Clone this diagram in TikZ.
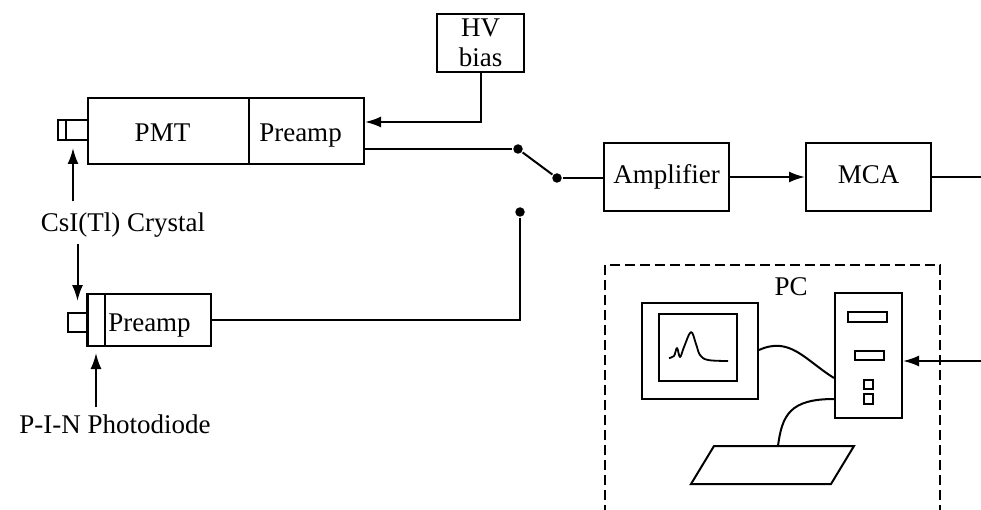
\documentclass[tikz,border=0pt]{standalone}
\usepackage{fontspec}
\setmainfont{Liberation Serif}
\usetikzlibrary{arrows.meta}
\begin{document}
\begin{tikzpicture}[x=1pt, y=-1pt, line width=2pt,
  every node/.style={font=\fontsize{27}{30}\selectfont},
  box/.style={draw, rectangle, inner sep=0pt, line width=2pt},
  lowtext/.style={text height=22pt, text depth=0pt},
  midtext/.style={text height=18pt, text depth=5pt},
  arr/.style={-{Latex[length=16pt,width=11pt]}},
  dot/.style={circle, fill, inner sep=0pt, minimum size=9.5pt},
  caption/.style={inner sep=0pt, anchor=base},
]
\useasboundingbox (0,0) rectangle (981,510);

% ---- scintillator + PMT chain ----
\node[box, minimum width=87pt, minimum height=58pt, align=center] (hv) at (480.5,43) {HV\\bias};
\node[box, lowtext, minimum width=161pt, minimum height=66pt] (pmt) at (168.5,131) {PMT\hspace*{12pt}};
\node[box, lowtext, minimum width=115pt, minimum height=66pt] (pre1) at (306.5,131) {Preamp\hspace*{12pt}};
\node[box, minimum width=30pt, minimum height=20pt] (xtal1) at (73,130) {};
\draw[line width=2.8pt] (66,121) -- (66,139);

% ---- scintillator + photodiode chain ----
\node[box, lowtext, minimum width=123pt, minimum height=52pt] (pre2) at (149.5,320) {Preamp};
\draw (105,294) -- (105,346);
\node[box, minimum width=18pt, minimum height=52pt] (pin) at (96,320) {};
\node[box, minimum width=19pt, minimum height=19pt] (pdsq) at (77.5,322.5) {};

% ---- labels ----
\node[caption] (csi) at (123,232) {CsI(Tl) Crystal};
\node[caption] (pinlab) at (115,433) {P-I-N Photodiode};
\draw[arr, shorten <=11pt, shorten >=7pt] (csi.north -| xtal1.south) -- (xtal1.south);
\draw[arr, shorten <=5pt, shorten >=11pt] (csi.south -| pdsq.north) -- (pdsq.north);
\draw[arr, shorten <=6pt, shorten >=6pt] (pinlab.north -| pin.south) -- (pin.south);

% ---- bias supply ----
\coordinate (hvturn) at (480.5,122);
\draw[arr] (hv.south) -- (hvturn) -- (hvturn -| pre1.east);

% ---- selector switch ----
\node[dot] (s1) at (518,149) {};
\node[dot] (s2) at (557,178) {};
\node[dot] (s3) at (520,212) {};
\draw (pre1.east |- s1) -- (s1);
\draw (s1) -- (s2);
\draw (s3) -- (s3 |- pre2.east) -- (pre2.east);

% ---- shaping and analysis ----
\node[box, midtext, minimum width=125pt, minimum height=68pt] (amp) at (666.5,177) {Amplifier};
\node[box, midtext, minimum width=125pt, minimum height=68pt] (mca) at (868.5,177) {MCA};
\draw (s2) -- (s2 -| amp.west);
\draw[arr] (amp) -- (mca);
\coordinate (mcaout) at (981,177);
\draw (mca.east) -- (mcaout);

% ---- computer ----
\draw[dash pattern=on 10pt off 5pt] (605,515) -- (605,265) -- (940,265) -- (940,515);
\node[caption] (pc) at (791,295) {PC};

\node[box, minimum width=116pt, minimum height=96pt] (mon) at (700,351) {};
\node[box, minimum width=78pt, minimum height=67pt] (scr) at (698,347.5) {};
\draw[line width=1.8pt, line join=round] plot[smooth, tension=0.6] coordinates
  {(669,358) (674,356) (677,348) (680,357) (684,347) (691,332) (696,344) (700,355) (708,360) (728,361)};

\node[box, minimum width=67pt, minimum height=125pt] (tower) at (868.5,355.5) {};
\draw (848,312) rectangle (887,322);
\draw (855,351) rectangle (884,360);
\draw (864,380) rectangle (873,389);
\draw (864,394) rectangle (873,404);

\coordinate (kbcable) at (778,446);
\draw (mon.east |- 0,350) .. controls (790,336) and (805,360) .. (tower.west |- 0,378);
\draw (tower.west |- 0,399) .. controls (790,399) and (782,415) .. (kbcable);
\draw[line join=miter] (714,446) -- (854,446) -- (831,484) -- (691,484) -- cycle;

\coordinate (pcin) at (981,361);
\draw[arr] (pcin) -- (pcin -| tower.east);
\end{tikzpicture}
\end{document}
